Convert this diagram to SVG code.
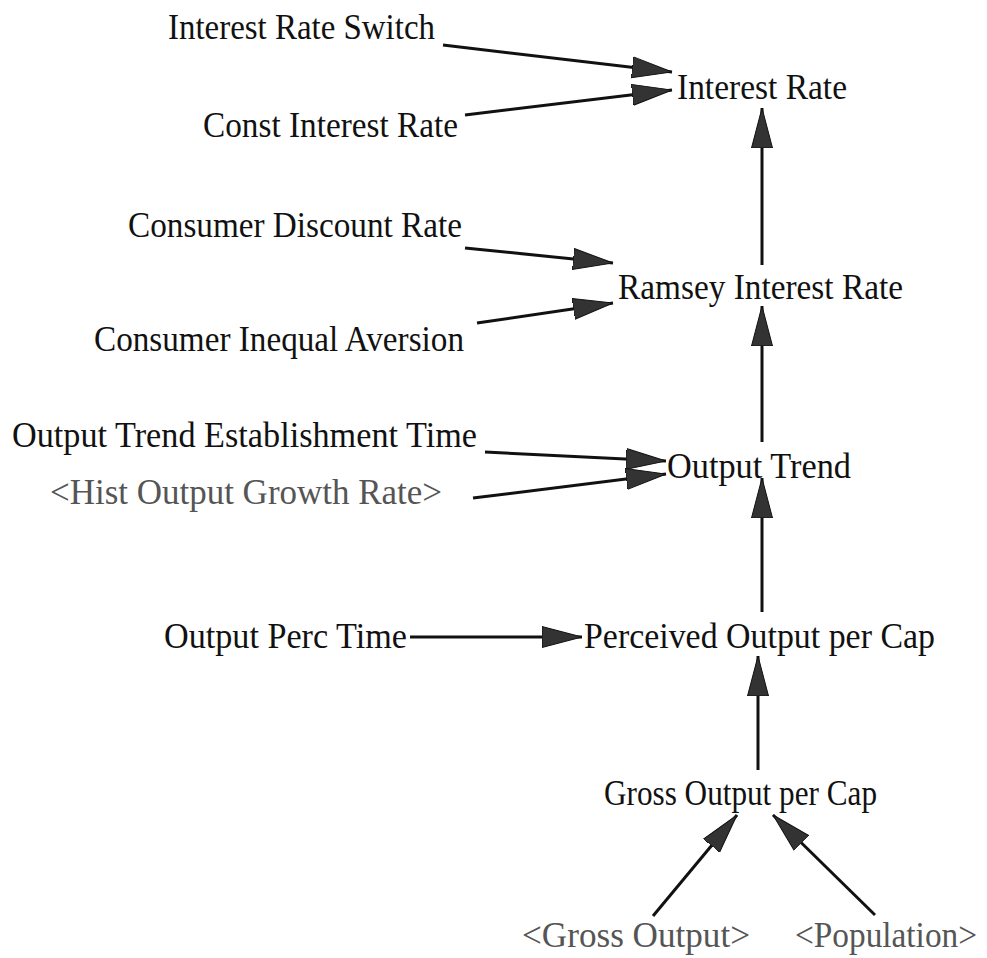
<svg xmlns="http://www.w3.org/2000/svg" width="987" height="958" viewBox="0 0 987 958">
<defs>
<style>
.t{font-family:"Liberation Serif","Times New Roman",serif;font-size:35px;fill:#111;}
.g{font-family:"Liberation Serif","Times New Roman",serif;font-size:35px;fill:#555;}
.c{stroke:#111;stroke-width:3;fill:none;marker-end:url(#ah);}
</style>
<marker id="ah" markerUnits="userSpaceOnUse" viewBox="0 0 40 24" markerWidth="40" markerHeight="24" refX="40" refY="12" orient="auto">
<path d="M0,1.5 L40,12 L0,22.5 Z" fill="#333" stroke="#111" stroke-width="1"/>
</marker>
</defs>
<rect width="987" height="958" fill="#fff"/>
<g id="connectors">
<line class="c" x1="443" y1="45" x2="672" y2="72"/>
<line class="c" x1="465" y1="115" x2="672" y2="90"/>
<line class="c" x1="762" y1="265" x2="762" y2="108"/>
<line class="c" x1="465" y1="248" x2="613" y2="263"/>
<line class="c" x1="477" y1="323" x2="613" y2="303"/>
<line class="c" x1="762" y1="442" x2="762" y2="306"/>
<line class="c" x1="485" y1="452" x2="666" y2="461"/>
<line class="c" x1="473" y1="498" x2="666" y2="474"/>
<line class="c" x1="762" y1="612" x2="762" y2="478"/>
<line class="c" x1="410" y1="637" x2="582" y2="637"/>
<line class="c" x1="758" y1="770" x2="758" y2="656"/>
<line class="c" x1="653" y1="916" x2="737" y2="815"/>
<line class="c" x1="875" y1="915" x2="773" y2="815"/>
</g>
<g id="interest_rate_switch"><text class="t" x="168" y="39" textLength="267" lengthAdjust="spacingAndGlyphs">Interest Rate Switch</text></g>
<g id="interest_rate"><text class="t" x="677" y="99" textLength="170" lengthAdjust="spacingAndGlyphs">Interest Rate</text></g>
<g id="const_interest_rate"><text class="t" x="203" y="137" textLength="255" lengthAdjust="spacingAndGlyphs">Const Interest Rate</text></g>
<g id="consumer_discount_rate"><text class="t" x="128" y="237" textLength="334" lengthAdjust="spacingAndGlyphs">Consumer Discount Rate</text></g>
<g id="ramsey_interest_rate"><text class="t" x="618" y="299" textLength="285" lengthAdjust="spacingAndGlyphs">Ramsey Interest Rate</text></g>
<g id="consumer_inequal_aversion"><text class="t" x="94" y="351" textLength="370" lengthAdjust="spacingAndGlyphs">Consumer Inequal Aversion</text></g>
<g id="output_trend_establishment_time"><text class="t" x="12" y="447" textLength="465" lengthAdjust="spacingAndGlyphs">Output Trend Establishment Time</text></g>
<g id="output_trend"><text class="t" x="667" y="478" textLength="184" lengthAdjust="spacingAndGlyphs">Output Trend</text></g>
<g id="hist_output_growth_rate"><text class="g" x="50" y="504" textLength="392" lengthAdjust="spacingAndGlyphs">&lt;Hist Output Growth Rate&gt;</text></g>
<g id="output_perc_time"><text class="t" x="164" y="648" textLength="243" lengthAdjust="spacingAndGlyphs">Output Perc Time</text></g>
<g id="perceived_output_per_cap"><text class="t" x="584" y="648" textLength="351" lengthAdjust="spacingAndGlyphs">Perceived Output per Cap</text></g>
<g id="gross_output_per_cap"><text class="t" x="604" y="805" textLength="273" lengthAdjust="spacingAndGlyphs">Gross Output per Cap</text></g>
<g id="gross_output"><text class="g" x="522" y="947" textLength="228" lengthAdjust="spacingAndGlyphs">&lt;Gross Output&gt;</text></g>
<g id="population"><text class="g" x="795" y="947" textLength="182" lengthAdjust="spacingAndGlyphs">&lt;Population&gt;</text></g>
</svg>
